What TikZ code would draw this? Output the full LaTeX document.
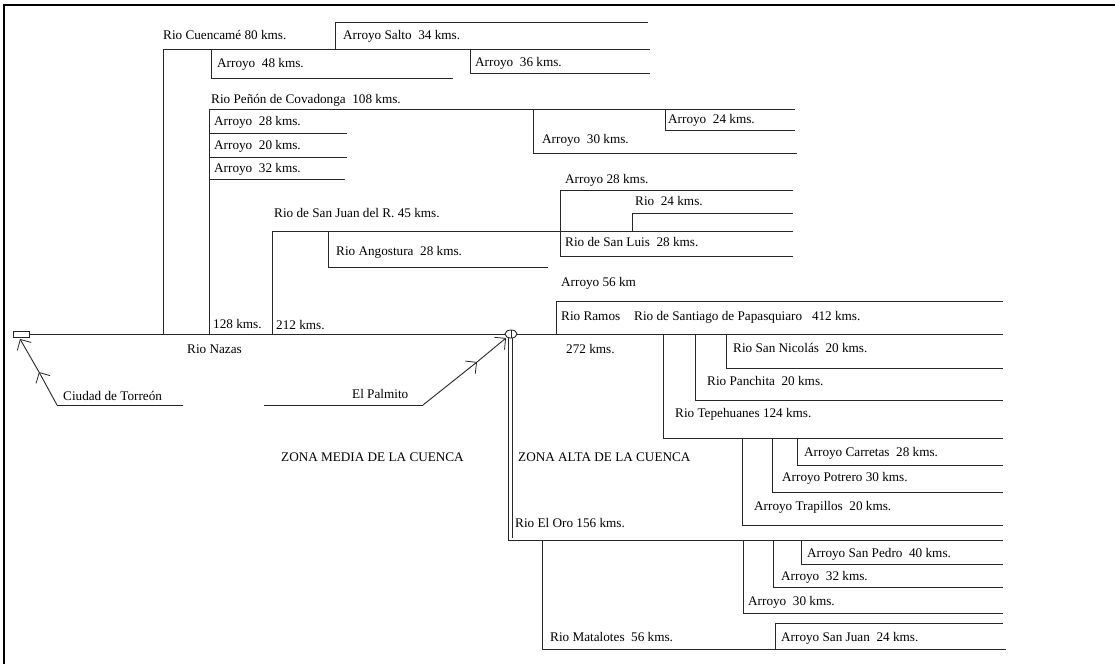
\documentclass[tikz,border=0pt]{standalone}
\usepackage{fontspec}
\setmainfont{Liberation Serif}
\usetikzlibrary{arrows.meta}
\begin{document}
\begin{tikzpicture}[x=1pt,y=-1pt,
  riv/.style={line width=0.9pt, draw=black!85},
  lbl/.style={anchor=base west, inner sep=0pt, font=\fontsize{13.2}{15}\selectfont},
  chev/.style={-{Straight Barb[length=8pt,width=16pt,line width=0.8pt]}}
]
\useasboundingbox (0,0) rectangle (1115,664);
\fill[white] (0,0) rectangle (1115,664);
% frame
\draw[line width=1.2pt] (4,664) -- (4,5) -- (1115,5);

% ---- upper tributaries of Rio Nazas ----
\draw[riv] (163,334) -- (163,49) -- (650,49);          % Cuencame
\draw[riv] (335,49) -- (335,22) -- (648,22);           % Arroyo Salto
\draw[riv] (211,49) -- (211,78) -- (453,78);           % Arroyo 48
\draw[riv] (470,49) -- (470,73) -- (650,73);           % Arroyo 36
\draw[riv] (209,334) -- (209,109) -- (795,109);        % Penon de Covadonga
\draw[riv] (209,133) -- (347,133);
\draw[riv] (209,157) -- (347,157);
\draw[riv] (209,179) -- (345,179);
\draw[riv] (533,109) -- (533,153) -- (797,153);        % Arroyo 30
\draw[riv] (665,109) -- (665,130) -- (795,130);        % Arroyo 24
\draw[riv] (272,334) -- (272,231) -- (793,231);        % San Juan del R.
\draw[riv] (328,231) -- (328,267) -- (548,267);        % Angostura
\draw[riv] (793,190) -- (560,190) -- (560,256) -- (793,256); % San Luis
\draw[riv] (632,231) -- (632,213) -- (793,213);        % Rio 24
\draw[riv] (556,334) -- (556,301) -- (1003,301);       % Ramos

% ---- main river ----
\draw[riv] (29,334) -- (1003,334);

% ---- Santiago tributaries ----
\draw[riv] (726,334) -- (726,368) -- (1003,368);
\draw[riv] (695,334) -- (695,400) -- (1003,400);
\draw[riv] (663,334) -- (663,438) -- (1003,438);
\draw[riv] (797,438) -- (797,465) -- (1003,465);
\draw[riv] (772,438) -- (772,492) -- (1003,492);
\draw[riv] (742,438) -- (742,525) -- (1003,525);

% ---- Rio El Oro ----
\draw[riv] (508.5,338) -- (508.5,540) -- (1003,540);
\draw[riv] (512,338) -- (512,538);
\draw[riv] (801,540) -- (801,564) -- (1003,564);
\draw[riv] (773,540) -- (773,587) -- (1003,587);
\draw[riv] (743,540) -- (743,613) -- (1003,613);
\draw[riv] (542,540) -- (542,649) -- (1006,649);
\draw[riv] (775,649) -- (775,623) -- (1003,623);

% ---- markers ----
\draw[riv, fill=white] (13,331) rectangle (29,337);
\draw[riv, fill=white] (511,334) ellipse (6pt and 4pt);
\draw[riv] (511,330) -- (511,338);

\coordinate (t0) at (183,405);
\coordinate (t1) at (57,405);
\coordinate (t2) at (39,372);
\coordinate (t3) at (20,339);
\draw[riv] (t0) -- (t1);
\draw[riv,chev] (t1) -- (t2);
\draw[riv,chev] (t2) -- (t3);

\coordinate (p0) at (264,405);
\coordinate (p1) at (423,405);
\coordinate (p2) at (477,362);
\coordinate (p3) at (506,338);
\draw[riv] (p0) -- (p1);
\draw[riv,chev] (p1) -- (p2);
\draw[riv,chev] (p2) -- (p3);

% ---- labels ----
\node[lbl] (l1) at (163,39) {Rio Cuencamé 80 kms.};
\node[lbl] (l2) at (343,39) {Arroyo Salto~~34 kms.};
\node[lbl] (l3) at (217,67) {Arroyo~~48 kms.};
\node[lbl] (l4) at (475,66) {Arroyo~~36 kms.};
\node[lbl] (l5) at (211,103) {Rio Peñón de Covadonga~~108 kms.};
\node[lbl] (l6) at (214,125) {Arroyo~~28 kms.};
\node[lbl] (l7) at (214,149) {Arroyo~~20 kms.};
\node[lbl] (l8) at (214,172) {Arroyo~~32 kms.};
\node[lbl] (l9) at (668,123) {Arroyo~~24 kms.};
\node[lbl] (l10) at (542,143) {Arroyo~~30 kms.};
\node[lbl] (l11) at (565,183) {Arroyo 28 kms.};
\node[lbl] (l12) at (635,205) {Rio~~24 kms.};
\node[lbl] (l13) at (565,246) {Rio de San Luis~~28 kms.};
\node[lbl] (l14) at (274,217) {Rio de San Juan del R. 45 kms.};
\node[lbl] (l15) at (336,255) {Rio Angostura~~28 kms.};
\node[lbl] (l16) at (561,286) {Arroyo 56 km};
\node[lbl] (l17) at (561,320) {Rio Ramos};
\node[lbl] (l18) at (634,320) {Rio de Santiago de Papasquiaro~~~412 kms.};
\node[lbl] (l19) at (213,328) {128 kms.};
\node[lbl] (l20) at (276,329) {212 kms.};
\node[lbl] (l21) at (187,353) {Rio Nazas};
\node[lbl] (l22) at (566,353) {272 kms.};
\node[lbl] (l23) at (733,352) {Rio San Nicolás~~20 kms.};
\node[lbl] (l24) at (707,385) {Rio Panchita~~20 kms.};
\node[lbl] (l25) at (675,417) {Rio Tepehuanes 124 kms.};
\node[lbl] (l26) at (63,400) {Ciudad de Torreón};
\node[lbl] (l27) at (352,398) {El Palmito};
\node[lbl] (l28) at (281,461) {ZONA MEDIA DE LA CUENCA};
\node[lbl] (l29) at (518,461) {ZONA ALTA DE LA CUENCA};
\node[lbl] (l30) at (804,456) {Arroyo Carretas~~28 kms.};
\node[lbl] (l31) at (782,481) {Arroyo Potrero 30 kms.};
\node[lbl] (l32) at (754,510) {Arroyo Trapillos~~20 kms.};
\node[lbl] (l33) at (515,527) {Rio El Oro 156 kms.};
\node[lbl] (l34) at (807,557) {Arroyo San Pedro~~40 kms.};
\node[lbl] (l35) at (781,580) {Arroyo~~32 kms.};
\node[lbl] (l36) at (748,605) {Arroyo~~30 kms.};
\node[lbl] (l37) at (550,641) {Rio Matalotes~~56 kms.};
\node[lbl] (l38) at (781,641) {Arroyo San Juan~~24 kms.};
\end{tikzpicture}
\end{document}
